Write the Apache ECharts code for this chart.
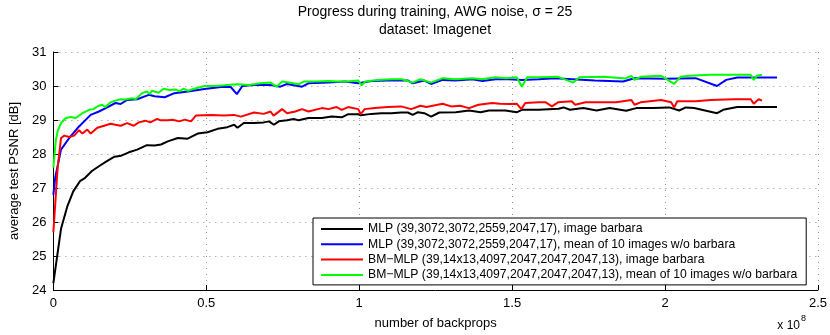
<!DOCTYPE html>
<html>
<head>
<meta charset="utf-8">
<script src="https://cdn.jsdelivr.net/npm/echarts@6/dist/echarts.min.js"></script>
<style>
html,body{margin:0;padding:0;background:#fff;}
#c{width:830px;height:335px;}
</style>
</head>
<body>
<div id="c"></div>
<script>
// x in units of 1e8 backprops, y = average test PSNR [dB]
var seriesNames = [
  'MLP (39,3072,3072,2559,2047,17), image barbara',
  'MLP (39,3072,3072,2559,2047,17), mean of 10 images w/o barbara',
  'BM\u2212MLP (39,14x13,4097,2047,2047,2047,13), image barbara',
  'BM\u2212MLP (39,14x13,4097,2047,2047,2047,13), mean of 10 images w/o barbara'
];
var seriesColors = ['#000000', '#0000ff', '#ff0000', '#00ff00'];
var xTicks = [0, 0.5, 1, 1.5, 2, 2.5];
var yTicks = [24, 25, 26, 27, 28, 29, 30, 31];

var mlpBarbara = [
  [0,24.2],[0.025,25.8],[0.046,26.47],[0.065,26.9],[0.087,27.2],[0.104,27.3],[0.126,27.5],[0.149,27.64],
  [0.175,27.79],[0.2,27.92],[0.222,27.95],[0.247,28.05],[0.274,28.13],[0.306,28.26],[0.331,28.25],[0.352,28.28],
  [0.374,28.37],[0.407,28.47],[0.439,28.45],[0.472,28.6],[0.504,28.64],[0.537,28.74],[0.569,28.79],[0.591,28.86],
  [0.602,28.77],[0.623,28.91],[0.656,28.91],[0.688,28.93],[0.705,28.96],[0.721,28.86],[0.737,28.96],[0.764,28.99],
  [0.786,29.03],[0.802,28.99],[0.834,29.06],[0.878,29.06],[0.91,29.1],[0.943,29.08],[0.964,29.17],[0.997,29.17],
  [1.005,29.14],[1.04,29.18],[1.072,29.2],[1.105,29.2],[1.137,29.22],[1.159,29.22],[1.175,29.15],[1.192,29.23],
  [1.213,29.2],[1.235,29.1],[1.262,29.22],[1.316,29.23],[1.359,29.28],[1.397,29.23],[1.424,29.28],[1.478,29.28],
  [1.516,29.23],[1.532,29.3],[1.587,29.3],[1.652,29.33],[1.668,29.37],[1.689,29.3],[1.733,29.35],[1.776,29.28],
  [1.819,29.35],[1.873,29.27],[1.906,29.35],[1.96,29.35],[2.014,29.37],[2.046,29.28],[2.068,29.37],[2.095,29.35],
  [2.17,29.2],[2.19,29.3],[2.236,29.38],[2.3,29.38],[2.366,29.38]
];
var mlpMean = [
  [0,26.8],[0.006,27.3],[0.025,28.13],[0.052,28.47],[0.084,28.81],[0.122,29.15],[0.149,29.25],[0.176,29.37],
  [0.203,29.5],[0.22,29.47],[0.241,29.59],[0.274,29.61],[0.312,29.74],[0.331,29.7],[0.364,29.67],[0.396,29.79],
  [0.44,29.84],[0.494,29.91],[0.548,29.97],[0.58,29.97],[0.6,29.76],[0.618,30.0],[0.656,30.03],[0.71,30.03],
  [0.742,29.98],[0.764,30.06],[0.813,29.98],[0.834,30.08],[0.9,30.1],[0.954,30.13],[0.997,30.08],[1.04,30.15],
  [1.094,30.16],[1.16,30.16],[1.175,30.08],[1.213,30.16],[1.235,30.06],[1.273,30.18],[1.315,30.16],[1.37,30.2],
  [1.403,30.15],[1.446,30.2],[1.489,30.2],[1.532,30.18],[1.587,30.2],[1.64,30.23],[1.77,30.16],[1.863,30.13],
  [1.9,30.23],[2.0,30.21],[2.1,30.23],[2.17,30.0],[2.2,30.18],[2.236,30.25],[2.3,30.25],[2.366,30.25]
];
var bmBarbara = [
  [0,25.7],[0.014,27.6],[0.025,28.47],[0.036,28.54],[0.052,28.5],[0.068,28.54],[0.084,28.7],[0.095,28.6],
  [0.111,28.72],[0.122,28.6],[0.144,28.77],[0.166,28.83],[0.187,28.89],[0.203,28.86],[0.22,28.83],[0.241,28.91],
  [0.263,28.83],[0.279,28.93],[0.301,28.98],[0.317,28.93],[0.339,29.03],[0.352,28.99],[0.374,28.99],[0.39,29.01],
  [0.412,28.96],[0.43,29.01],[0.45,28.96],[0.466,29.13],[0.515,29.15],[0.558,29.13],[0.59,29.15],[0.613,29.1],
  [0.656,29.22],[0.688,29.18],[0.71,29.25],[0.72,29.13],[0.748,29.32],[0.764,29.2],[0.791,29.25],[0.813,29.32],
  [0.834,29.25],[0.878,29.35],[0.9,29.32],[0.926,29.38],[0.943,29.3],[0.964,29.38],[0.997,29.32],[1.005,29.17],
  [1.018,29.32],[1.051,29.35],[1.094,29.38],[1.137,29.4],[1.17,29.32],[1.2,29.42],[1.22,29.38],[1.273,29.48],
  [1.3,29.4],[1.33,29.42],[1.359,29.35],[1.39,29.45],[1.435,29.5],[1.46,29.48],[1.49,29.47],[1.515,29.48],
  [1.53,29.32],[1.543,29.5],[1.587,29.52],[1.61,29.52],[1.63,29.4],[1.65,29.52],[1.695,29.55],[1.706,29.45],
  [1.74,29.52],[1.79,29.52],[1.84,29.52],[1.89,29.59],[1.9,29.45],[1.92,29.52],[1.987,29.59],[2.02,29.52],
  [2.03,29.37],[2.04,29.55],[2.1,29.55],[2.149,29.59],[2.225,29.61],[2.28,29.61],[2.29,29.48],[2.306,29.61],
  [2.317,29.57]
];
var bmMean = [
  [0,27.6],[0.008,28.4],[0.014,28.67],[0.025,28.91],[0.041,29.06],[0.057,29.09],[0.073,29.06],[0.095,29.2],
  [0.117,29.3],[0.131,29.32],[0.144,29.4],[0.159,29.45],[0.17,29.38],[0.187,29.52],[0.203,29.57],[0.22,29.61],
  [0.235,29.6],[0.257,29.64],[0.27,29.62],[0.29,29.79],[0.306,29.84],[0.315,29.76],[0.322,29.86],[0.344,29.8],
  [0.36,29.92],[0.38,29.88],[0.4,29.9],[0.412,29.84],[0.425,29.92],[0.44,29.86],[0.46,29.92],[0.494,30.0],
  [0.53,30.0],[0.56,30.02],[0.6,30.05],[0.64,30.03],[0.678,30.08],[0.71,30.1],[0.73,29.98],[0.748,30.13],
  [0.77,30.1],[0.802,30.05],[0.818,30.13],[0.86,30.13],[0.9,30.15],[0.93,30.13],[0.96,30.13],[0.997,30.16],
  [1.008,30.02],[1.02,30.13],[1.062,30.18],[1.105,30.2],[1.14,30.2],[1.175,30.1],[1.2,30.2],[1.235,30.1],
  [1.273,30.23],[1.315,30.2],[1.37,30.23],[1.4,30.2],[1.446,30.26],[1.48,30.23],[1.515,30.26],[1.532,29.98],
  [1.549,30.26],[1.6,30.26],[1.65,30.27],[1.7,30.1],[1.72,30.26],[1.8,30.27],[1.87,30.22],[1.89,30.3],
  [1.9,30.18],[1.92,30.27],[1.987,30.3],[2.03,30.06],[2.05,30.27],[2.08,30.3],[2.15,30.33],[2.23,30.33],
  [2.28,30.33],[2.29,30.18],[2.3,30.3],[2.317,30.33]
];
var allData = [mlpBarbara, mlpMean, bmBarbara, bmMean];

var FONT = '"Liberation Sans", Arial, sans-serif';
var chart = echarts.init(document.getElementById('c'), null, {renderer: 'canvas'});
var gridStyle = {show: true, lineStyle: {color: '#8c8c8c', width: 1, type: [1, 5]}};
var option = {
  animation: false,
  backgroundColor: '#fff',
  grid: {left: 48, right: 12, top: 52, bottom: 44, containLabel: false},
  xAxis: {
    type: 'value', min: 0, max: 2.5, interval: 0.5,
    name: 'number of backprops', nameLocation: 'middle', nameGap: 27,
    nameTextStyle: {color: '#000', fontSize: 13, fontFamily: FONT},
    axisLine: {show: true, lineStyle: {color: '#000', width: 1}},
    axisTick: {show: true, inside: true, length: 5, lineStyle: {color: '#000'}},
    axisLabel: {color: '#000', fontSize: 13, fontFamily: FONT, margin: 7,
      formatter: function (v) { return xTicks.indexOf(v) >= 0 ? String(v) : ''; }},
    splitLine: gridStyle
  },
  yAxis: {
    type: 'value', min: 24, max: 31, interval: 1,
    name: 'average test PSNR [dB]', nameLocation: 'middle', nameGap: 28,
    nameTextStyle: {color: '#000', fontSize: 13, fontFamily: FONT},
    axisLine: {show: true, lineStyle: {color: '#000', width: 1}},
    axisTick: {show: true, inside: true, length: 5, lineStyle: {color: '#000'}},
    axisLabel: {color: '#000', fontSize: 13, fontFamily: FONT, margin: 7,
      formatter: function (v) { return yTicks.indexOf(v) >= 0 ? String(v) : ''; }},
    splitLine: gridStyle
  },
  legend: {
    orient: 'vertical', left: 313, top: 218,
    backgroundColor: '#fff', borderColor: '#000', borderWidth: 1,
    padding: [4, 9, 3, 8], itemGap: 1.3, itemWidth: 42, itemHeight: 2, icon: 'rect',
    textStyle: {color: '#000', fontSize: 12.2, fontFamily: FONT, lineHeight: 14},
    data: seriesNames
  },
  graphic: [
    {type: 'text', x: 435, y: 12, style: {text: 'Progress during training, AWG noise, \u03c3 = 25', font: '14px ' + FONT, fill: '#000', textAlign: 'center', textVerticalAlign: 'middle'}},
    {type: 'text', x: 435, y: 30, style: {text: 'dataset: Imagenet', font: '14px ' + FONT, fill: '#000', textAlign: 'center', textVerticalAlign: 'middle'}},
    {type: 'text', x: 800, y: 326, style: {text: 'x 10', font: '12px ' + FONT, fill: '#000', textAlign: 'right', textVerticalAlign: 'middle'}},
    {type: 'text', x: 801, y: 319, style: {text: '8', font: '9px ' + FONT, fill: '#000', textAlign: 'left', textVerticalAlign: 'middle'}}
  ],
  series: allData.map(function (d, i) {
    return {
      name: seriesNames[i], type: 'line', data: d, symbol: 'none', showSymbol: false,
      lineStyle: {color: seriesColors[i], width: 2}, itemStyle: {color: seriesColors[i]},
      z: 2 + i, silent: true
    };
  })
};
chart.setOption(option);
</script>
</body>
</html>
